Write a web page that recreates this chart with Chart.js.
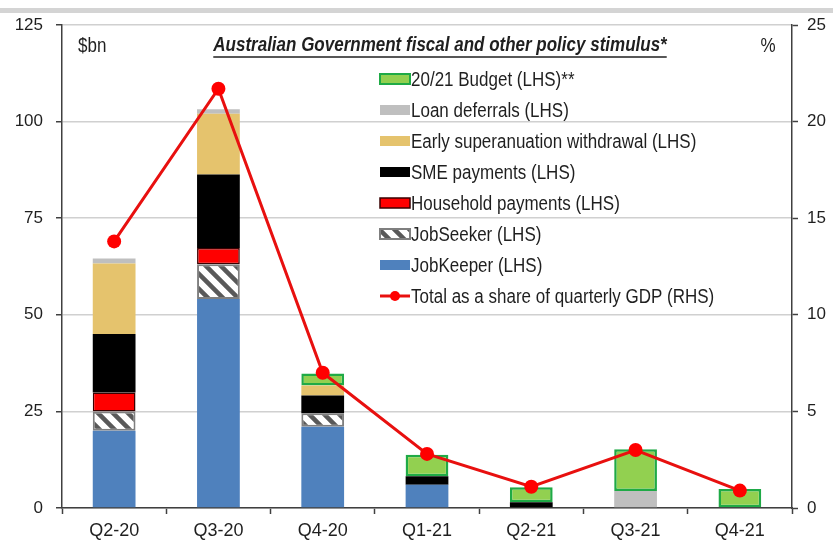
<!DOCTYPE html>
<html>
<head>
<meta charset="utf-8">
<script src="https://cdn.jsdelivr.net/npm/chart.js@4.4.1/dist/chart.umd.min.js"></script>
<style>
  html, body { margin: 0; padding: 0; background: #fff; }
</style>
</head>
<body>
<canvas id="stimulusChart" width="833" height="542"></canvas>
<script>
// quarters on the x axis
var quarters = ["Q2-20", "Q3-20", "Q4-20", "Q1-21", "Q2-21", "Q3-21", "Q4-21"];

// $bn (null = nothing drawn)
var jobKeeper  = [20, 54.1, 21, 6, null, null, null];
var jobSeeker  = [5, 9, 3.5, null, null, null, null];
var household  = [4.9, 4.2, null, null, null, null, null];
var smePayment = [15.1, 19, 4.6, 2.2, 1.5, null, null];
var earlySuper = [18.3, 15.7, 2.6, null, null, null, null];
var loanDefer  = [1.3, 1.2, null, null, null, 4.4, null];
var budget2021 = [null, null, 3.1, 5.6, 3.9, 10.8, 4.9];

// % of quarterly GDP, right axis
var shareOfGdp = [13.8, 21.7, 7.0, 2.8, 1.1, 3.0, 0.9];

var leftTicks = [0, 25, 50, 75, 100, 125];
var rightTicks = [0, 5, 10, 15, 20, 25];

var FONT = "'Liberation Sans Narrow', 'Arial Narrow', 'Liberation Sans', Arial, sans-serif";
Chart.defaults.font.family = FONT;
Chart.defaults.color = "#1f1f1f";

// white with dark diagonal stripes for JobSeeker
function stripePattern() {
  var n = 15;
  var c = document.createElement("canvas");
  c.width = n; c.height = n;
  var g = c.getContext("2d");
  g.fillStyle = "#ffffff";
  g.fillRect(0, 0, n, n);
  g.strokeStyle = "#595959";
  g.lineWidth = 4.5;
  g.beginPath();
  g.moveTo(-4, -4); g.lineTo(n + 4, n + 4);
  g.moveTo(-4, n - 4); g.lineTo(4, n + 4);
  g.moveTo(n - 4, -4); g.lineTo(n + 4, 4);
  g.stroke();
  return g.createPattern(c, "repeat");
}
var stripes = stripePattern();

var barBase = { type: "bar", yAxisID: "y", stack: "s", order: 1, borderWidth: 0, borderSkipped: false };

var datasets = [
  Object.assign({}, barBase, { label: "JobKeeper (LHS)", data: jobKeeper, backgroundColor: "#4f81bd" }),
  Object.assign({}, barBase, { label: "JobSeeker (LHS)", data: jobSeeker, backgroundColor: stripes, borderColor: "#7f7f7f", borderWidth: 2 }),
  Object.assign({}, barBase, { label: "Household payments (LHS)", data: household, backgroundColor: "#ff0000", borderColor: "#3a0000", borderWidth: 1.5 }),
  Object.assign({}, barBase, { label: "SME payments (LHS)", data: smePayment, backgroundColor: "#000000" }),
  Object.assign({}, barBase, { label: "Early superanuation withdrawal (LHS)", data: earlySuper, backgroundColor: "#e5c36d" }),
  Object.assign({}, barBase, { label: "Loan deferrals (LHS)", data: loanDefer, backgroundColor: "#bfbfbf" }),
  Object.assign({}, barBase, { label: "20/21 Budget (LHS)**", data: budget2021, backgroundColor: "#92d050", borderColor: "#1faa46", borderWidth: 2.5 }),
  {
    type: "line", label: "Total as a share of quarterly GDP (RHS)", data: shareOfGdp, yAxisID: "y1", order: 0,
    borderColor: "#e8100f", borderWidth: 3, backgroundColor: "#ff0000",
    pointRadius: 7, pointBackgroundColor: "#ff0000", pointBorderWidth: 0, tension: 0
  }
];

// squeeze text sideways so it looks like the narrow font of the original
function narrowText(ctx, text, x, y, align, sx) {
  ctx.save();
  ctx.translate(x, y);
  ctx.scale(sx, 1);
  ctx.textAlign = align;
  ctx.fillText(text, 0, 0);
  ctx.restore();
  return ctx.measureText(text).width * sx;
}

// page strip, title, unit labels and the in-plot legend
var decorations = {
  id: "decorations",
  beforeDraw: function (chart) {
    var ctx = chart.ctx;
    ctx.save();
    ctx.fillStyle = "#d4d4d4";
    ctx.fillRect(0, 8, chart.width, 5);
    ctx.restore();
  },
  afterDraw: function (chart) {
    var ctx = chart.ctx;
    var SX = 0.85;
    ctx.save();
    ctx.fillStyle = "#1f1f1f";
    ctx.textBaseline = "middle";
    ctx.font = "20px " + FONT;
    narrowText(ctx, "$bn", 78, 46, "left", SX);
    narrowText(ctx, "%", 768, 46, "center", SX);

    var title = "Australian Government fiscal and other policy stimulus*";
    ctx.font = "italic bold 20px " + FONT;
    var tw = narrowText(ctx, title, 440, 45, "center", SX);
    ctx.strokeStyle = "#1f1f1f";
    ctx.lineWidth = 1.5;
    ctx.beginPath();
    ctx.moveTo(440 - tw / 2, 57);
    ctx.lineTo(440 + tw / 2, 57);
    ctx.stroke();

    // legend: stack top to bottom, then the line
    var items = datasets.slice(0, 7).reverse().concat([datasets[7]]);
    ctx.font = "20px " + FONT;
    items.forEach(function (ds, i) {
      var y = 79 + i * 31;
      if (ds.type === "line") {
        ctx.strokeStyle = ds.borderColor;
        ctx.lineWidth = 3;
        ctx.beginPath();
        ctx.moveTo(380, y); ctx.lineTo(410, y);
        ctx.stroke();
        ctx.fillStyle = ds.pointBackgroundColor;
        ctx.beginPath();
        ctx.arc(395, y, 5, 0, Math.PI * 2);
        ctx.fill();
      } else {
        ctx.fillStyle = ds.backgroundColor;
        ctx.fillRect(380, y - 5, 30, 10);
        if (ds.borderWidth) {
          ctx.strokeStyle = ds.borderColor;
          ctx.lineWidth = Math.min(ds.borderWidth, 2);
          ctx.strokeRect(380, y - 5, 30, 10);
        }
      }
      ctx.fillStyle = "#1f1f1f";
      narrowText(ctx, ds.label, 411, y + 1, "left", SX);
    });
    ctx.restore();
  }
};

new Chart(document.getElementById("stimulusChart"), {
  data: { labels: quarters, datasets: datasets },
  options: {
    responsive: false,
    animation: false,
    layout: { padding: { top: 25, left: 0, right: 0, bottom: 0 } },
    datasets: { bar: { categoryPercentage: 0.41, barPercentage: 1 } },
    plugins: { legend: { display: false }, tooltip: { enabled: false } },
    scales: {
      x: {
        stacked: true,
        grid: { drawOnChartArea: false, offset: true, tickLength: 6, tickColor: "#404040", tickWidth: 1.5 },
        border: { color: "#404040", width: 1.5 },
        ticks: { font: { size: 18 }, padding: 6 },
        afterFit: function (s) { s.height = 34; }
      },
      y: {
        stacked: true, position: "left", min: 0, max: 125,
        afterBuildTicks: function (s) { s.ticks = leftTicks.map(function (v) { return { value: v }; }); },
        grid: { color: "#d0d0d0", lineWidth: 1.5, tickLength: 6, tickColor: "#404040", tickWidth: 1.5 },
        border: { color: "#404040", width: 1.5 },
        ticks: { font: { size: 17 }, padding: 13 },
        afterFit: function (s) { s.width = 62; }
      },
      y1: {
        position: "right", min: 0, max: 25,
        afterBuildTicks: function (s) { s.ticks = rightTicks.map(function (v) { return { value: v }; }); },
        grid: { drawOnChartArea: false, tickLength: 6, tickColor: "#404040", tickWidth: 1.5 },
        border: { color: "#404040", width: 1.5 },
        ticks: { font: { size: 17 }, padding: 9 },
        afterFit: function (s) { s.width = 41; }
      }
    }
  },
  plugins: [decorations]
});
</script>
</body>
</html>
